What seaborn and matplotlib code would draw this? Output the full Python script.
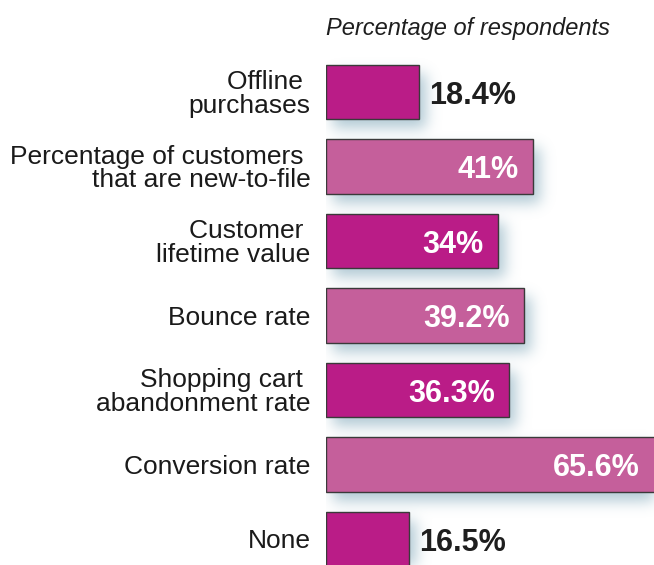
import numpy as np
import pandas as pd
import matplotlib
matplotlib.use("Agg")
import matplotlib.pyplot as plt
import seaborn as sns

categories = [
    "Offline \npurchases",
    "Percentage of customers \nthat are new-to-file",
    "Customer \nlifetime value",
    "Bounce rate",
    "Shopping cart \nabandonment rate",
    "Conversion rate",
    "None",
]
values = [18.4, 41.0, 34.0, 39.2, 36.3, 65.6, 16.5]
value_labels = ["18.4%", "41%", "34%", "39.2%", "36.3%", "65.6%", "16.5%"]
inside = [False, True, True, True, True, True, False]

DARK = "#BA1C87"
LIGHT = "#C55F9B"
palette = [DARK if i % 2 == 0 else LIGHT for i in range(len(categories))]

sns.set_theme(style="white")
plt.rcParams["font.family"] = ["Liberation Sans", "DejaVu Sans"]

W, H = 654, 565
fig = plt.figure(figsize=(W / 100, H / 100), dpi=100)
ax_left = 326 / W
ax = fig.add_axes([ax_left, 0.0, 1.0 - ax_left, 1.0])

df = pd.DataFrame({"category": categories, "value": values})
sns.barplot(data=df, x="value", y="category", hue="category", palette=palette,
            legend=False, width=0.725, edgecolor="#3a3a3a", linewidth=1.0,
            saturation=1, ax=ax, zorder=3)

px_per_unit = 5.05
ax.set_xlim(0, (W - 326) / px_per_unit)
pitch = 74.5
first_center = 92
ax.set_ylim((H - first_center) / pitch, -first_center / pitch)

for s in ax.spines.values():
    s.set_visible(False)
ax.set_xticks([])
ax.set_xlabel("")
ax.set_ylabel("")
ax.tick_params(axis="y", length=0, pad=11, labelsize=19, labelcolor="#1a1a1a")
for t in ax.get_yticklabels():
    t.set_multialignment("right")
    t.set_linespacing(0.95)

# soft drop shadow under each bar
xlim = ax.get_xlim()
ylim = ax.get_ylim()
nx, ny = W - 326, H
xs = xlim[0] + (np.arange(nx) + 0.5) / nx * (xlim[1] - xlim[0])
ys = ylim[1] + (np.arange(ny) + 0.5) / ny * (ylim[0] - ylim[1])
mask = np.zeros((ny, nx))
dx = 7 / px_per_unit
dy = 9 / pitch
for p in ax.patches:
    x0, y0 = p.get_x(), p.get_y()
    x1, y1 = x0 + p.get_width(), y0 + p.get_height()
    cx = (xs >= x0 + dx) & (xs <= x1 + dx)
    cy = (ys >= y0 + dy) & (ys <= y1 + dy)
    mask[np.ix_(cy, cx)] = 1.0

sigma = 7.0
k = np.arange(-21, 22)
kern = np.exp(-0.5 * (k / sigma) ** 2)
kern /= kern.sum()
mask = np.apply_along_axis(lambda r: np.convolve(r, kern, mode="same"), 1, mask)
mask = np.apply_along_axis(lambda c: np.convolve(c, kern, mode="same"), 0, mask)
rgba = np.zeros((ny, nx, 4))
rgba[..., 0] = 0.45
rgba[..., 1] = 0.62
rgba[..., 2] = 0.70
rgba[..., 3] = np.clip(mask, 0, 1) * 0.55
ax.imshow(rgba, extent=(xlim[0], xlim[1], ylim[0], ylim[1]), aspect="auto",
          zorder=1, interpolation="bilinear")
ax.set_xlim(xlim)
ax.set_ylim(ylim)

# value labels
pad_in = 14 / px_per_unit
pad_out = 10 / px_per_unit
base_off = 12 / pitch
for i, (v, lab, ins) in enumerate(zip(values, value_labels, inside)):
    if ins:
        xr = min(v, xlim[1]) - pad_in
        ax.text(xr, i + base_off, lab, ha="right", va="baseline", color="white",
                fontsize=22, fontweight="bold", zorder=5, clip_on=False)
    else:
        ax.text(v + pad_out, i + base_off, lab, ha="left", va="baseline",
                color="#1e1e1e", fontsize=22, fontweight="bold", zorder=5)

ax.text(0, 1 - 35 / H, "Percentage of respondents", transform=ax.transAxes,
        ha="left", va="baseline", fontsize=17, fontstyle="italic",
        color="#1e1e1e")

fig.savefig("out.png", dpi=100)
